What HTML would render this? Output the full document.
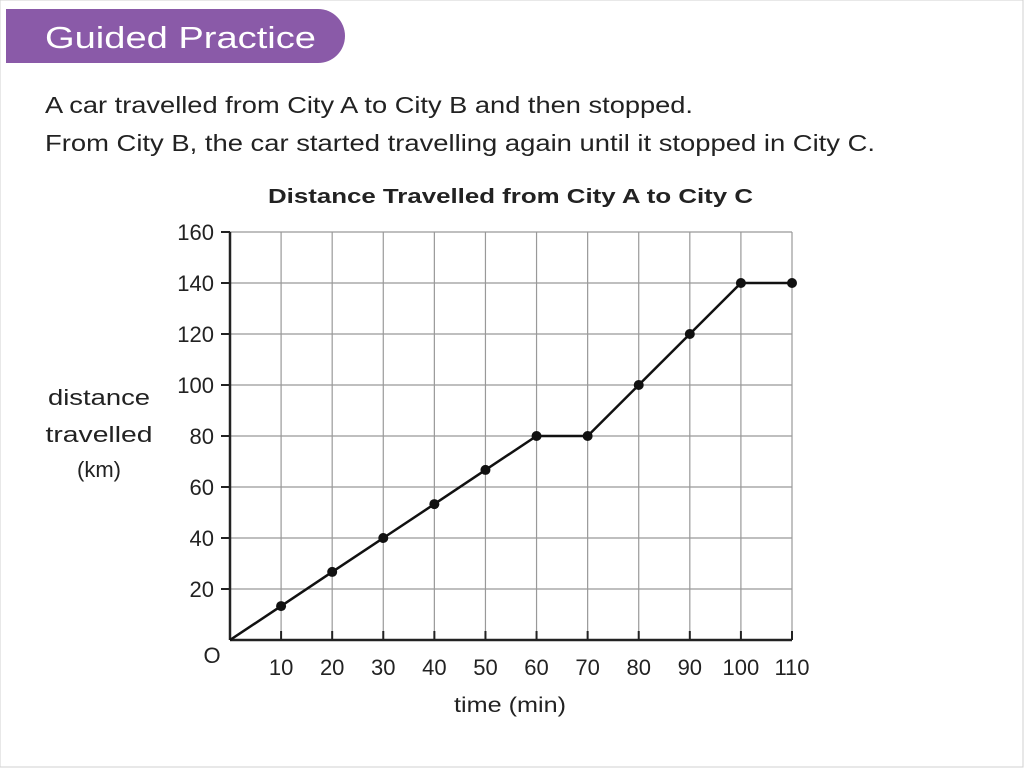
<!DOCTYPE html>
<html><head><meta charset="utf-8"><style>
body{margin:0;background:#fff;width:1024px;height:768px;overflow:hidden;font-family:"Liberation Sans",sans-serif;}
svg{position:absolute;left:0;top:0}
</style></head><body>
<svg width="1024" height="768">
<rect x="0" y="0" width="1023" height="767" fill="#fff" stroke="#d0d0d0" stroke-width="1"/>
<path d="M6 9 H318 A27 27 0 0 1 318 63 H6 Z" fill="#8a5aa8"/>
<text x="45" y="48" font-size="31" fill="#fff" textLength="271" lengthAdjust="spacingAndGlyphs">Guided Practice</text>
<text x="45" y="113" font-size="23" fill="#222" textLength="648" lengthAdjust="spacingAndGlyphs">A car travelled from City A to City B and then stopped.</text>
<text x="45" y="151" font-size="23" fill="#222" textLength="830" lengthAdjust="spacingAndGlyphs">From City B, the car started travelling again until it stopped in City C.</text>
<text x="268" y="203" font-size="20" font-weight="bold" fill="#222" textLength="485" lengthAdjust="spacingAndGlyphs">Distance Travelled from City A to City C</text>
<g font-size="22" fill="#222" text-anchor="middle">
<text x="99" y="405" textLength="102" lengthAdjust="spacingAndGlyphs">distance</text><text x="99" y="442" textLength="107" lengthAdjust="spacingAndGlyphs">travelled</text><text x="99" y="477">(km)</text></g>
<text x="510" y="712" font-size="21" fill="#222" text-anchor="middle" textLength="112" lengthAdjust="spacingAndGlyphs">time (min)</text>
<text x="212" y="663" font-size="22" fill="#222" text-anchor="middle">O</text>
<g id="grid"></g><g id="axes"></g><g id="marks"></g>
</svg>
<script>
const xTicks=[10,20,30,40,50,60,70,80,90,100,110];
const yTicks=[20,40,60,80,100,120,140,160];
const times=[0,10,20,30,40,50,60,70,80,90,100,110];
const distances=[0,13.3,26.7,40,53.3,66.7,80,80,100,120,140,140];
const X=v=>230+v*(792-230)/110, Y=v=>640-v*(640-232)/160;
const NS="http://www.w3.org/2000/svg";
function mk(t,a,p){const e=document.createElementNS(NS,t);for(const k in a)e.setAttribute(k,a[k]);p.appendChild(e);return e;}
const grid=document.getElementById('grid'),axes=document.getElementById('axes'),marks=document.getElementById('marks');
xTicks.forEach(v=>{const l=mk('line',{x1:X(v),x2:X(v),y1:Y(160),y2:Y(0),stroke:'#999','stroke-width':1.2},grid);

const t=mk('line',{x1:X(v),x2:X(v),y1:Y(0)-9,y2:Y(0),stroke:'#222','stroke-width':2},axes);

const tx=mk('text',{x:X(v),y:675,'font-size':22,fill:'#222','text-anchor':'middle'},axes);tx.textContent=v;
});
yTicks.forEach(v=>{const l=mk('line',{x1:X(0),x2:X(110),y1:Y(v),y2:Y(v),stroke:'#999','stroke-width':1.2},grid);

const t=mk('line',{x1:X(0)-9,x2:X(0),y1:Y(v),y2:Y(v),stroke:'#222','stroke-width':2},axes);

const tx=mk('text',{x:214,y:Y(v)+8,'font-size':22,fill:'#222','text-anchor':'end'},axes);tx.textContent=v;
});
const xa=mk('line',{x1:X(0),x2:X(110),y1:Y(0),y2:Y(0),stroke:'#222','stroke-width':2.5},axes);

const ya=mk('line',{x1:X(0),x2:X(0),y1:Y(0),y2:Y(160),stroke:'#222','stroke-width':2.5},axes);

const ln=mk('polyline',{points:times.map((t,i)=>X(t)+','+Y(distances[i])).join(' '),fill:'none',stroke:'#111','stroke-width':2.5},marks);

times.forEach((t,i)=>{if(i===0)return;const c=mk('circle',{cx:X(t),cy:Y(distances[i]),r:5,fill:'#111'},marks);
});
</script>
</body></html>
